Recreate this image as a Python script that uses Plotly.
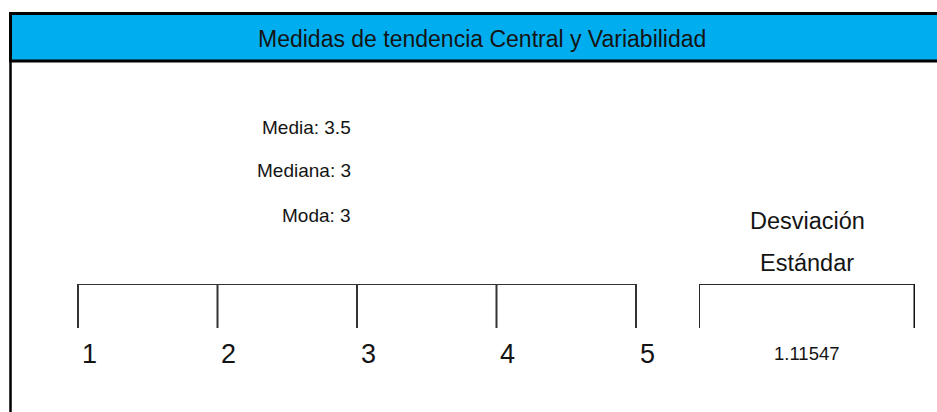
import plotly.graph_objects as go

# ---- data ----
title = "Medidas de tendencia Central y Variabilidad"
scale_values = [1, 2, 3, 4, 5]
scale_labels = ["1", "2", "3", "4", "5"]
stat_names = ["Media", "Mediana", "Moda"]
stat_values = ["3.5", "3", "3"]
std_title = ["Desviación", "Estándar"]
std_value = "1.11547"

W, H = 937, 412
FONT = "Liberation Sans, Arial, sans-serif"
TXT = "#141414"

def px(x):
    return x / W

def py(y):
    return 1 - y / H

fig = go.Figure()

# main scale bracket (horizontal line + ticks) through data axes
xs, ys = [], []
xs += [scale_values[0], scale_values[-1], None]
ys += [1, 1, None]
for v in scale_values:
    xs += [v, v, None]
    ys += [1, 0, None]
fig.add_trace(go.Scatter(x=xs, y=ys, mode="lines",
                         line=dict(color="#333333", width=2),
                         hoverinfo="skip", showlegend=False))

# std bracket on its own axis
fig.add_trace(go.Scatter(x=[0, 0, 1], y=[0, 1, 1], mode="lines",
                         line=dict(color="#2a2a2a", width=2),
                         xaxis="x2", yaxis="y",
                         hoverinfo="skip", showlegend=False))
fig.add_trace(go.Scatter(x=[1, 1], y=[1, 0], mode="lines",
                         line=dict(color="#111111", width=3),
                         xaxis="x2", yaxis="y",
                         hoverinfo="skip", showlegend=False))

# axis mapping: pixel 78 -> 1, pixel 636 -> 5
ppu = (636 - 78) / (scale_values[-1] - scale_values[0])
x0 = scale_values[0] - 78 / ppu
x1 = scale_values[0] + (W - 78) / ppu

fig.update_layout(
    width=W, height=H,
    margin=dict(l=0, r=0, t=0, b=0),
    paper_bgcolor="white", plot_bgcolor="rgba(0,0,0,0)",
    xaxis=dict(range=[x0, x1], domain=[0, 1], visible=False, fixedrange=True),
    xaxis2=dict(range=[0, 1], domain=[px(699), px(915)], visible=False,
                anchor="y", fixedrange=True),
    yaxis=dict(range=[0, 1], domain=[py(328), py(284)], visible=False, fixedrange=True),
    showlegend=False,
)

shapes = [
    # left frame line
    dict(type="line", xref="paper", yref="paper", x0=px(10.5), x1=px(10.5),
         y0=-0.05, y1=py(13), line=dict(color="black", width=2.5)),
    # title band
    dict(type="rect", xref="paper", yref="paper", x0=px(10.5), x1=1.05,
         y0=py(61), y1=py(13.5), fillcolor="#00AEEF",
         line=dict(color="black", width=3)),
]
fig.update_layout(shapes=shapes)

ann = []
ann.append(dict(text=title, xref="paper", yref="paper", x=px(482), y=py(39),
                showarrow=False, font=dict(family=FONT, size=23, color=TXT),
                xanchor="center", yanchor="middle"))
stat_y = [128, 171, 215]
for n, v, yy in zip(stat_names, stat_values, stat_y):
    ann.append(dict(text=f"{n}: {v}", xref="paper", yref="paper", x=px(353), y=py(yy),
                    showarrow=False, font=dict(family=FONT, size=19, color=TXT),
                    xanchor="right", yanchor="middle"))
for v, lab in zip(scale_values, scale_labels):
    ann.append(dict(text=lab, x=v, xref="x", yref="paper", y=py(354), xshift=11,
                    showarrow=False, font=dict(family=FONT, size=27, color=TXT),
                    xanchor="center", yanchor="middle"))
ann.append(dict(text=std_title[0], xref="x2", yref="paper", x=0.5, y=py(221),
                showarrow=False, font=dict(family=FONT, size=23.5, color=TXT),
                xanchor="center", yanchor="middle"))
ann.append(dict(text=std_title[1], xref="x2", yref="paper", x=0.5, y=py(263),
                showarrow=False, font=dict(family=FONT, size=23.5, color=TXT),
                xanchor="center", yanchor="middle"))
ann.append(dict(text=std_value, xref="x2", yref="paper", x=0.5, y=py(353),
                showarrow=False, font=dict(family=FONT, size=18.5, color=TXT),
                xanchor="center", yanchor="middle"))
fig.update_layout(annotations=ann)

fig.write_html(
    "out.html",
    config={"displayModeBar": False, "staticPlot": True},
    post_script="document.body.style.margin='0';document.body.style.overflow='hidden';",
)
